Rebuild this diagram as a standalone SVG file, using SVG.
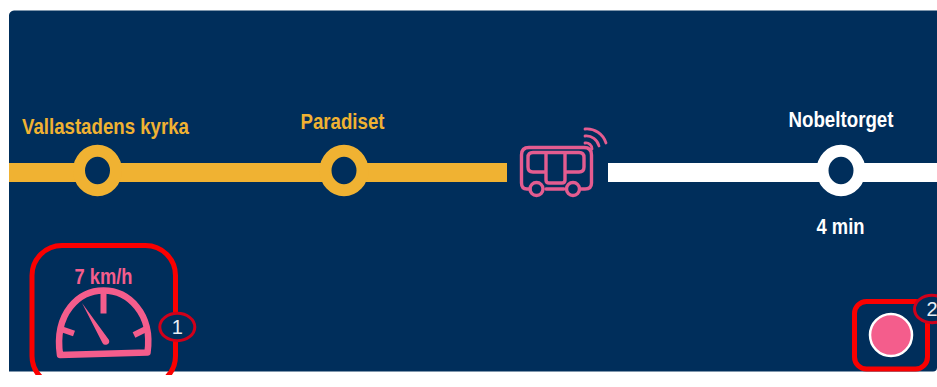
<svg xmlns="http://www.w3.org/2000/svg" width="937" height="387" viewBox="0 0 937 387">
<defs><clipPath id="c"><rect x="0" y="230" width="220" height="145"/></clipPath></defs>
<style>
text{font-family:"Liberation Sans",Arial,sans-serif;font-weight:700;text-anchor:middle}
.y{fill:#f0b232}.w{fill:#fff}.p{fill:#f45d8c}
.lbl{font-size:21.5px}
.stop{fill:#002e5b;stroke-width:12}
.red{fill:none;stroke:#fa0000;stroke-width:5}
.badge{fill:#002e5b;stroke:#d0001a;stroke-width:3}
.num{font-size:20px;font-weight:400;fill:#e8eef5}
.bus{fill:none;stroke:#e45c90;stroke-width:3.400;stroke-linecap:round;stroke-linejoin:round}
</style>
<rect width="937" height="387" fill="#fff"/>
<path id="panel" d="M9 371.500V16a5 5 0 0 1 5-5.500H937V367.500a4 4 0 0 1-4 4Z" fill="#002e5b"/>
<g id="connectors">
<rect x="9" y="163" width="498" height="19" fill="#f0b232"/>
<rect x="608" y="163" width="329" height="19" fill="#fff"/>
</g>
<g id="stop-vallastadens">
<ellipse cx="97.500" cy="170.500" rx="18.500" ry="19.700" class="stop" stroke="#f0b232"/>
<text x="105.500" y="134" class="lbl y" textLength="167" lengthAdjust="spacingAndGlyphs">Vallastadens kyrka</text>
</g>
<g id="stop-paradiset">
<ellipse cx="344" cy="170.500" rx="18.500" ry="19.700" class="stop" stroke="#f0b232"/>
<text x="342.500" y="129" class="lbl y" textLength="84" lengthAdjust="spacingAndGlyphs">Paradiset</text>
</g>
<g id="stop-nobeltorget">
<ellipse cx="841" cy="170.500" rx="18.500" ry="19.700" class="stop" stroke="#fff"/>
<text x="841" y="127" class="lbl w" textLength="105" lengthAdjust="spacingAndGlyphs">Nobeltorget</text>
<text x="840.500" y="234" class="lbl w" textLength="48" lengthAdjust="spacingAndGlyphs">4 min</text>
</g>
<g id="bus" class="bus">
<path d="M530 189H527Q521.500 189 521.500 183V155Q521.500 147.500 529 147.500H584Q591.500 147.500 591.500 155V183Q591.500 189 585 189H581M546 189H564"/>
<path d="M533 152.500H546V172H533Q528 172 528 167V157.500Q528 152.500 533 152.500ZM546 152.500H565V180Q565 183 562 183H549Q546 183 546 180ZM565 152.500H579Q584 152.500 584 157.500V167Q584 172 579 172H565"/>
<circle cx="536.500" cy="189" r="6.500"/><circle cx="573" cy="189" r="6.500"/>
<path d="M585 143A6 6 0 0 1 592 149M585 136A13 13 0 0 1 599 146M585 129A20 20 0 0 1 606 143" stroke-width="2.800"/>
</g>
<g id="speed">
<text x="103.500" y="284" class="p" font-size="22" textLength="58" lengthAdjust="spacingAndGlyphs">7 km/h</text>
<path d="M60 355C54 313 79 290.500 103.500 290.500C128 290.500 153 313 147.500 352.500Z" fill="none" stroke="#f45d8c" stroke-width="6.500" stroke-linejoin="round"/>
<path d="M103.500 292V313.500" stroke="#f45d8c" stroke-width="6" fill="none"/>
<path d="M58 328L74 333.500M149 327.500L134 335" stroke="#f45d8c" stroke-width="6" fill="none"/>
<path d="M82 303L102.500 343A3.600 3.600 0 0 0 109 340Z" fill="#f45d8c"/>
<rect x="32" y="245.500" width="143.500" height="140.500" rx="30" class="red" clip-path="url(#c)"/>
<ellipse cx="177.300" cy="327" rx="17.500" ry="13.700" class="badge"/>
<text x="177.300" y="333.500" class="num">1</text>
</g>
<g id="record">
<rect x="854.500" y="301.500" width="73" height="67.500" rx="12" class="red"/>
<circle cx="891" cy="335" r="21" fill="#f45d8c" stroke="#fff" stroke-width="2.500"/>
<ellipse cx="932" cy="309" rx="17.500" ry="13.700" class="badge"/>
<text x="932" y="315.500" class="num" font-weight="700">2</text>
</g>
</svg>
